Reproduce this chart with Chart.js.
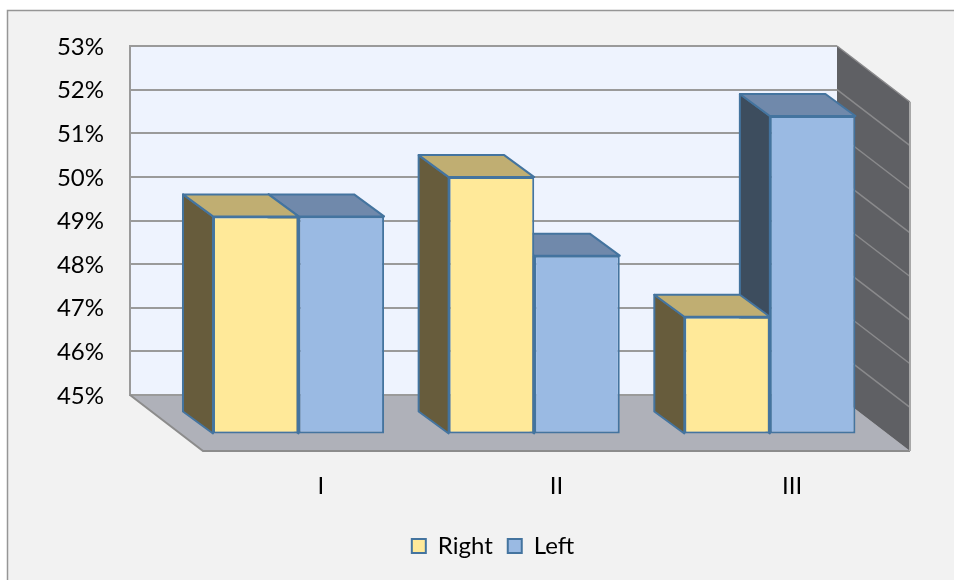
<!DOCTYPE html>
<html>
<head>
<meta charset="utf-8">
<title>Right / Left</title>
<script src="https://cdn.jsdelivr.net/npm/chart.js@4"></script>
<style>
    html, body { margin: 0; background: #fff; }
    canvas { display: block; }
</style>
</head>
<body>
<canvas id="myChart" width="954" height="580"></canvas>
<script>
var categories = ["I", "II", "III"];
var rightValues = [50.0, 50.9, 47.7];
var leftValues = [50.0, 49.1, 52.3];
var yMin = 45;
var yMax = 53;

var fontName = "Lato";
var textSize = 24;

// oblique depth of the room and of the bars, in pixels
var roomDepth = { x: 73, y: 56 };
var barDepth = { x: 30, y: 22 };
var barShift = { x: 50.7, y: 39.5 };

var colors = {
    page: "#f2f2f2",
    frame: "#969696",
    wall: "#eef3fe",
    sideWall: "#5f6064",
    floor: "#afb1b9",
    grid: "#9a9a9a",
    sideGrid: "#8a8a8c",
    edge: "#8c8c8c",
    barBorder: "#44749f",
    rightFront: "#ffe999",
    rightTop: "#c0ae72",
    rightSide: "#675c3c",
    leftFront: "#9abae3",
    leftTop: "#7089ab",
    leftSide: "#3d4d5e"
};

function polygon(ctx, points, fill, stroke, lineWidth) {
    var i;
    ctx.beginPath();
    ctx.moveTo(points[0][0], points[0][1]);
    for (i = 1; i < points.length; i++) {
        ctx.lineTo(points[i][0], points[i][1]);
    }
    ctx.closePath();
    if (fill) {
        ctx.fillStyle = fill;
        ctx.fill();
    }
    if (stroke) {
        ctx.strokeStyle = stroke;
        ctx.lineWidth = lineWidth;
        ctx.lineJoin = "round";
        ctx.stroke();
    }
}

// background, back wall, floor and side wall go under the grid
var roomPlugin = {
    id: "room",
    beforeDraw: function (chart) {
        var ctx = chart.ctx;
        var a = chart.chartArea;
        var dx = roomDepth.x;
        var dy = roomDepth.y;
        ctx.save();
        ctx.fillStyle = colors.page;
        ctx.fillRect(7, 10, chart.width, chart.height);
        ctx.strokeStyle = colors.frame;
        ctx.lineWidth = 1.5;
        ctx.strokeRect(7.5, 10.5, chart.width + 10, chart.height + 10);

        ctx.fillStyle = colors.wall;
        ctx.fillRect(a.left, a.top, a.right - a.left, a.bottom - a.top);
        polygon(ctx, [[a.left, a.bottom], [a.right, a.bottom], [a.right + dx, a.bottom + dy], [a.left + dx, a.bottom + dy]], colors.floor);
        polygon(ctx, [[a.right, a.top], [a.right + dx, a.top + dy], [a.right + dx, a.bottom + dy], [a.right, a.bottom]], colors.sideWall);
        ctx.restore();
    },
    beforeDatasetsDraw: function (chart) {
        var ctx = chart.ctx;
        var a = chart.chartArea;
        var dx = roomDepth.x;
        var dy = roomDepth.y;
        var yScale = chart.scales.y;
        ctx.save();
        ctx.strokeStyle = colors.sideGrid;
        ctx.lineWidth = 1.5;
        yScale.ticks.forEach(function (tick) {
            var y = yScale.getPixelForValue(tick.value);
            if (tick.value == yMin) {
                return;
            }
            ctx.beginPath();
            ctx.moveTo(a.right, y);
            ctx.lineTo(a.right + dx, y + dy);
            ctx.stroke();
        });
        ctx.strokeStyle = colors.edge;
        ctx.lineWidth = 2;
        ctx.beginPath();
        ctx.moveTo(a.left, a.bottom);
        ctx.lineTo(a.left + dx, a.bottom + dy);
        ctx.lineTo(a.right + dx, a.bottom + dy);
        ctx.stroke();
        ctx.strokeStyle = "#a8a8a8";
        ctx.beginPath();
        ctx.moveTo(a.right + dx, a.bottom + dy);
        ctx.lineTo(a.right + dx, a.top + dy);
        ctx.stroke();
        ctx.restore();
    }
};

// each bar gets a side and a top, and the whole set is pushed forward off the back wall
var boxPlugin = {
    id: "boxes",
    beforeDatasetDraw: function (chart, args) {
        var ctx = chart.ctx;
        var ds = chart.data.datasets[args.index];
        ctx.save();
        ctx.translate(barShift.x, barShift.y);
        args.meta.data.forEach(function (bar) {
            var l = bar.x - bar.width / 2;
            var r = bar.x + bar.width / 2;
            var t = bar.y;
            var b = bar.base;
            var dx = barDepth.x;
            var dy = barDepth.y;
            polygon(ctx, [[l, t], [l - dx, t - dy], [l - dx, b - dy], [l, b]], ds.sideColor, colors.barBorder, 2);
            polygon(ctx, [[l, t], [r, t], [r - dx, t - dy], [l - dx, t - dy]], ds.topColor, colors.barBorder, 2);
        });
    },
    afterDatasetDraw: function (chart) {
        chart.ctx.restore();
    }
};

var ctx = document.getElementById("myChart").getContext("2d");
var myChart = new Chart(ctx, {
    type: "bar",
    data: {
        labels: categories,
        datasets: [{
            label: "Right",
            data: rightValues,
            base: yMin,
            backgroundColor: colors.rightFront,
            sideColor: colors.rightSide,
            topColor: colors.rightTop,
            borderColor: colors.barBorder,
            borderWidth: 2,
            borderSkipped: false,
            clip: false
        }, {
            label: "Left",
            data: leftValues,
            base: yMin,
            backgroundColor: colors.leftFront,
            sideColor: colors.leftSide,
            topColor: colors.leftTop,
            borderColor: colors.barBorder,
            borderWidth: 2,
            borderSkipped: false,
            clip: false
        }]
    },
    options: {
        responsive: false,
        animation: false,
        layout: { padding: { left: 32, top: 46, bottom: 12 } },
        barPercentage: 1,
        categoryPercentage: 0.726,
        scales: {
            x: {
                grid: { display: false },
                border: { display: false },
                ticks: {
                    color: "#000",
                    font: { family: fontName, size: textSize },
                    padding: 69,
                    labelOffset: roomDepth.x,
                    autoSkip: false,
                    maxRotation: 0
                },
                afterFit: function (scale) {
                    scale.height = 124;
                }
            },
            y: {
                min: yMin,
                max: yMax,
                grid: { color: colors.grid, lineWidth: 2, drawTicks: false },
                border: { color: colors.grid, width: 2 },
                ticks: {
                    stepSize: 1,
                    color: "#000",
                    padding: 26,
                    labelOffset: 1,
                    font: { family: fontName, size: textSize },
                    callback: function (value) {
                        return value + "%";
                    }
                },
                afterFit: function (scale) {
                    scale.width = 98;
                }
            },
            // empty axis that keeps the side wall's room on the right
            side: {
                position: "right",
                min: yMin,
                max: yMax,
                grid: { display: false },
                border: { display: false },
                ticks: { display: false },
                afterFit: function (scale) {
                    scale.width = 117;
                }
            }
        },
        plugins: {
            legend: {
                position: "bottom",
                labels: {
                    boxWidth: 14,
                    boxHeight: 14,
                    padding: 15,
                    color: "#000",
                    font: { family: fontName, size: textSize }
                }
            },
            tooltip: { enabled: false }
        }
    },
    plugins: [roomPlugin, boxPlugin]
});
</script>
</body>
</html>
